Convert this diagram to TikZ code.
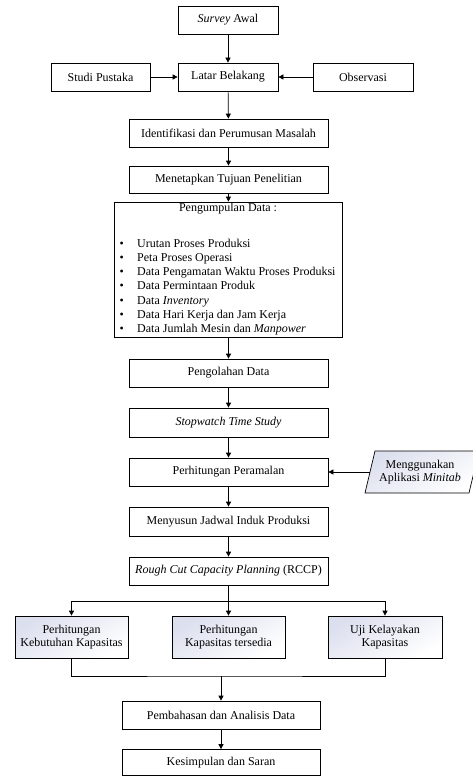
\documentclass[tikz,border=0pt]{standalone}
\usepackage{fontspec}
\setmainfont{Liberation Serif}
\usetikzlibrary{arrows.meta}
\definecolor{shadeblue}{RGB}{220,223,238}
\tikzset{
  box/.style={draw=black, line width=0.7pt, inner sep=0pt, align=center,
    minimum height=28pt, font=\fontsize{12}{13.5}\selectfont},
  gbox/.style={box, shading=axis, top color=shadeblue, bottom color=white, shading angle=30},
  arr/.style={line width=0.7pt, -{Triangle[length=5pt,width=5pt]}},
  ln/.style={line width=0.7pt}
}
\begin{document}
\begin{tikzpicture}[x=1pt,y=-1pt]
\useasboundingbox (0,0) rectangle (473,776);
\begin{scope}
\clip (0,0) rectangle (473,776);
% nodes
\node[box, minimum width=100pt] (survey) at (228,20) {\textit{Survey} Awal};
\node[box, minimum width=100pt] (latar) at (228,77) {Latar Belakang};
\node[box, minimum width=99pt] (studi) at (100.5,77) {Studi Pustaka};
\node[box, minimum width=100pt] (obs) at (363,77) {Observasi};
\node[box, minimum width=199pt] (ident) at (228.5,133) {Identifikasi dan Perumusan Masalah};
\node[box, minimum width=199pt, minimum height=27pt] (tujuan) at (228.5,179.5) {Menetapkan Tujuan Penelitian};
\node[box, minimum width=228pt, minimum height=135pt] (data) at (228,269.5) {};
\node[font=\fontsize{12}{13}\selectfont, inner sep=0pt] (datatitle) at (228,209) {Pengumpulan Data :};
\node[font=\fontsize{12}{14.3}\selectfont, anchor=north west, align=left, inner sep=0pt] (datalist) at (119.5,238.5) {%
\makebox[17.5pt][l]{\textbullet}Urutan Proses Produksi\\
\makebox[17.5pt][l]{\textbullet}Peta Proses Operasi\\
\makebox[17.5pt][l]{\textbullet}Data Pengamatan Waktu Proses Produksi\\
\makebox[17.5pt][l]{\textbullet}Data Permintaan Produk\\
\makebox[17.5pt][l]{\textbullet}Data \textit{Inventory}\\
\makebox[17.5pt][l]{\textbullet}Data Hari Kerja dan Jam Kerja\\
\makebox[17.5pt][l]{\textbullet}Data Jumlah Mesin dan \textit{Manpower}};
\node[box, minimum width=199pt] (olah) at (228.5,373) {Pengolahan Data};
\node[box, minimum width=199pt, minimum height=29pt] (stop) at (228.5,422.5) {\textit{Stopwatch Time Study}};
\node[box, minimum width=199pt] (ramal) at (228.5,472) {Perhitungan Peramalan};
\node[box, minimum width=199pt, minimum height=29pt] (jadwal) at (228.5,521.5) {Menyusun Jadwal Induk Produksi};
\node[box, minimum width=199pt] (rccp) at (228.5,571) {\textit{Rough Cut Capacity Planning} (RCCP)};
% parallelogram
\shade[top color=shadeblue, bottom color=white, shading angle=30, draw=black, line width=0.7pt]
  (375,451) -- (479,451) -- (469,493) -- (365,493) -- cycle;
\coordinate (minleft) at (370,472);
\node[font=\fontsize{12}{13.5}\selectfont, align=center, inner sep=0pt] (minitab) at (420,472) {Menggunakan\\Aplikasi \textit{Minitab}};
% three boxes
\node[gbox, minimum width=113pt, minimum height=42pt] (k1) at (71.5,637) {Perhitungan\\Kebutuhan Kapasitas};
\node[gbox, minimum width=113pt, minimum height=42pt] (k2) at (228.5,637) {Perhitungan\\Kapasitas tersedia};
\node[gbox, minimum width=114pt, minimum height=42pt] (k3) at (385,637) {Uji Kelayakan\\Kapasitas};
\node[box, minimum width=198pt] (bahas) at (221,715) {Pembahasan dan Analisis Data};
\node[box, minimum width=198pt, minimum height=26pt] (simpul) at (221,762.5) {Kesimpulan dan Saran};
% connectors
\draw[arr] (survey) -- (latar);
\draw[arr] (studi) -- (latar);
\draw[arr] (obs) -- (latar);
\draw[arr] (latar) -- (ident);
\draw[arr] (ident) -- (tujuan);
\draw[arr] (tujuan) -- (data);
\draw[arr] (data.south -| olah.north) -- (olah);
\draw[arr] (olah) -- (stop);
\draw[arr] (stop) -- (ramal);
\draw[arr] (minleft) -- (ramal);
\draw[arr] (ramal) -- (jadwal);
\draw[arr] (jadwal) -- (rccp);
\coordinate (split) at (228.5,601);
\draw[ln] (rccp) -- (split);
\draw[arr] (split) -- (k2);
\draw[arr] (split) -| (k1);
\draw[arr] (split) -| (k3);
\coordinate (merge) at (221,676);
\draw[ln] (k1) |- (merge) -| (k3);
\draw[arr] (merge) -- (bahas);
\draw[arr] (bahas) -- (simpul);
\end{scope}
\end{tikzpicture}
\end{document}
